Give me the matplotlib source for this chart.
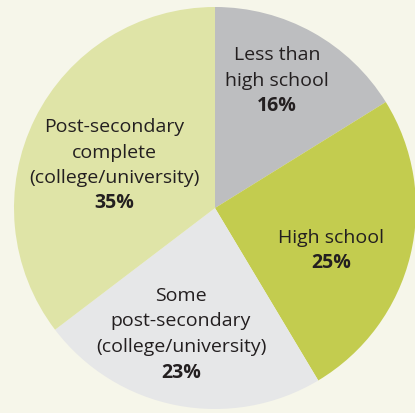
import matplotlib
matplotlib.use("Agg")
import matplotlib.pyplot as plt

# education levels, share in percent
labels = ["Less than\nhigh school", "High school",
          "Some\npost-secondary\n(college/university)",
          "Post-secondary\ncomplete\n(college/university)"]
values = [16, 25, 23, 35]
colors = ["#bdbec0", "#c3cc4f", "#e6e7e8", "#dfe4a7"]

# label anchor (centre x, y of first line) in pixel space, top-down
label_xy = [(277, 55), (331, 238), (181, 296), (114, 127)]

W, H = 415, 413
bg = "#f6f6ea"
txtcol = "#231f20"
fam = ["Open Sans", "DejaVu Sans"]

fig = plt.figure(figsize=(W / 100.0, H / 100.0), dpi=100, facecolor=bg)
ax = fig.add_axes([0, 0, 1, 1])
ax.set_facecolor(bg)

cx, cy, r = 215, H - 208, 201
ax.pie(values, colors=colors, startangle=90, counterclock=False,
       center=(cx, cy), radius=r, wedgeprops=dict(linewidth=0))
ax.set_xlim(0, W)
ax.set_ylim(0, H)
ax.set_aspect("equal")
ax.axis("off")

step = 25.5
for lab, v, (x, y) in zip(labels, values, label_xy):
    lines = lab.split("\n")
    for i, ln in enumerate(lines):
        ax.text(x, H - (y + i * step), ln, ha="center", va="center",
                fontsize=14, color=txtcol, family=fam)
    ax.text(x, H - (y + len(lines) * step), "%d%%" % v, ha="center",
            va="center", fontsize=14, fontweight="bold", color=txtcol,
            family=fam)

fig.savefig("out.png", dpi=100, facecolor=bg)
